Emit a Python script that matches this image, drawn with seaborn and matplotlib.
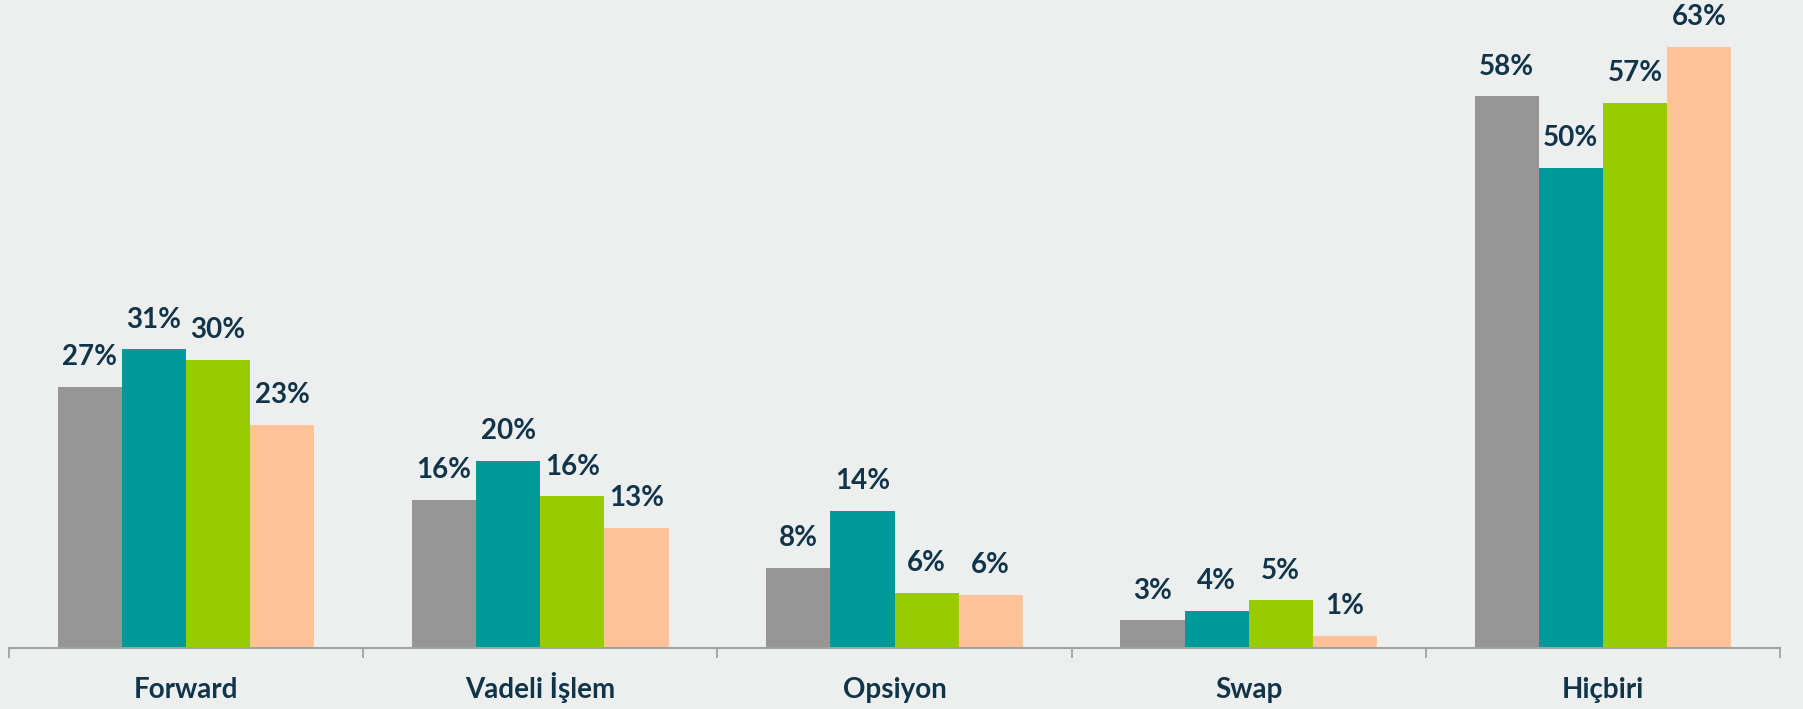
import pandas as pd
import seaborn as sns
import matplotlib.pyplot as plt

# Data
categories = ["Forward", "Vadeli İşlem", "Opsiyon", "Swap", "Hiçbiri"]
series = ["Seri 1", "Seri 2", "Seri 3", "Seri 4"]
values = {
    "Seri 1": [27.4, 15.5, 8.4, 2.9, 57.8],
    "Seri 2": [31.3, 19.6, 14.4, 3.9, 50.3],
    "Seri 3": [30.2, 15.9, 5.8, 5.0, 57.1],
    "Seri 4": [23.4, 12.6, 5.6, 1.3, 63.0],
}
labels = {
    "Seri 1": ["27%", "16%", "8%", "3%", "58%"],
    "Seri 2": ["31%", "20%", "14%", "4%", "50%"],
    "Seri 3": ["30%", "16%", "6%", "5%", "57%"],
    "Seri 4": ["23%", "13%", "6%", "1%", "63%"],
}
colors = ["#969696", "#009999", "#99CC00", "#FFC299"]

rows = []
for s in series:
    for c, v in zip(categories, values[s]):
        rows.append({"kategori": c, "grup": s, "deger": v})
df = pd.DataFrame(rows)

bg = "#EDEFEE"
text_color = "#10344A"
axis_color = "#A0A3A5"

sns.set_theme(style="white")
plt.rcParams["font.family"] = ["Lato", "DejaVu Sans"]

fig = plt.figure(figsize=(18.03, 7.09), dpi=100, facecolor=bg)
ax = fig.add_axes([9 / 1803, 61 / 709, 1771 / 1803, 648 / 709])
ax.set_facecolor(bg)

sns.barplot(data=df, x="kategori", y="deger", hue="grup", palette=colors,
            width=0.724, saturation=1, linewidth=0, legend=False, ax=ax)

for cont, s in zip(ax.containers, series):
    ax.bar_label(cont, labels=labels[s], padding=12, fontsize=20,
                 fontweight="bold", color=text_color)

ax.set_xlim(-0.5, len(categories) - 0.5)
ax.set_ylim(0, 67.9)
ax.set_xlabel("")
ax.set_ylabel("")
ax.set_yticks([])

for side in ["top", "right", "left"]:
    ax.spines[side].set_visible(False)
ax.spines["bottom"].set_color(axis_color)
ax.spines["bottom"].set_linewidth(1.5)

ax.set_xticks([i - 0.5 for i in range(len(categories) + 1)], minor=True)
ax.tick_params(axis="x", which="minor", direction="out", length=7,
               width=1.3, color=axis_color, bottom=True)
ax.tick_params(axis="x", which="major", length=0, pad=36)
for t in ax.get_xticklabels():
    t.set_fontsize(20)
    t.set_fontweight("bold")
    t.set_color(text_color)
    t.set_verticalalignment("baseline")

fig.savefig("out.png", dpi=100, facecolor=bg)
